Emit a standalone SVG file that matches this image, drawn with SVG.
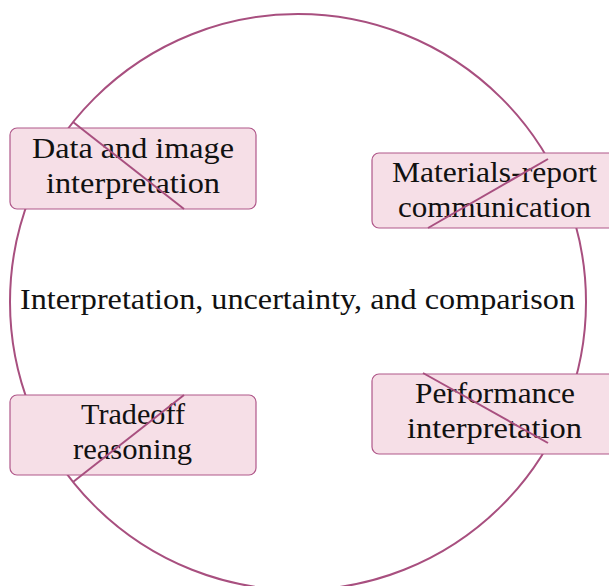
<svg xmlns="http://www.w3.org/2000/svg" width="609" height="586" viewBox="0 0 609 586">
<style>
.box{fill:#f6dfe7;stroke:#b0588a;stroke-width:1.2}
.lbl{font-family:"Liberation Serif","DejaVu Serif",serif;font-size:30px;fill:#111;text-anchor:middle}
.ln{stroke:#a84f7f;stroke-width:2;fill:none}
</style>
<rect width="609" height="586" fill="#fff"/>
<g id="hub">
<circle cx="298" cy="302" r="288" class="ln"/>
<text class="lbl" x="297.5" y="309" textLength="555" lengthAdjust="spacingAndGlyphs">Interpretation, uncertainty, and comparison</text>
</g>
<g id="n1"><rect class="box" x="10" y="128" width="246" height="81" rx="7"/>
<text class="lbl" x="133" y="158" textLength="202" lengthAdjust="spacingAndGlyphs">Data and image</text><text class="lbl" x="133" y="193" textLength="174" lengthAdjust="spacingAndGlyphs">interpretation</text></g>
<g id="n2"><rect class="box" x="372" y="153" width="246" height="75" rx="7"/>
<text class="lbl" x="494.5" y="182" textLength="205" lengthAdjust="spacingAndGlyphs">Materials-report</text><text class="lbl" x="494.5" y="217" textLength="193" lengthAdjust="spacingAndGlyphs">communication</text></g>
<g id="n3"><rect class="box" x="10" y="395" width="246" height="80" rx="7"/>
<text class="lbl" x="133" y="424" textLength="104" lengthAdjust="spacingAndGlyphs">Tradeoff</text><text class="lbl" x="132.5" y="459" textLength="119" lengthAdjust="spacingAndGlyphs">reasoning</text></g>
<g id="n4"><rect class="box" x="372" y="374" width="246" height="80" rx="7"/>
<text class="lbl" x="495" y="403" textLength="160" lengthAdjust="spacingAndGlyphs">Performance</text><text class="lbl" x="494.5" y="438" textLength="175" lengthAdjust="spacingAndGlyphs">interpretation</text></g>
<g id="connectors">
<line class="ln" x1="73" y1="122" x2="184" y2="209"/>
<line class="ln" x1="548" y1="159" x2="428" y2="228"/>
<line class="ln" x1="184" y1="395" x2="73" y2="482"/>
<line class="ln" x1="423" y1="373" x2="548" y2="443"/>
</g>
</svg>
